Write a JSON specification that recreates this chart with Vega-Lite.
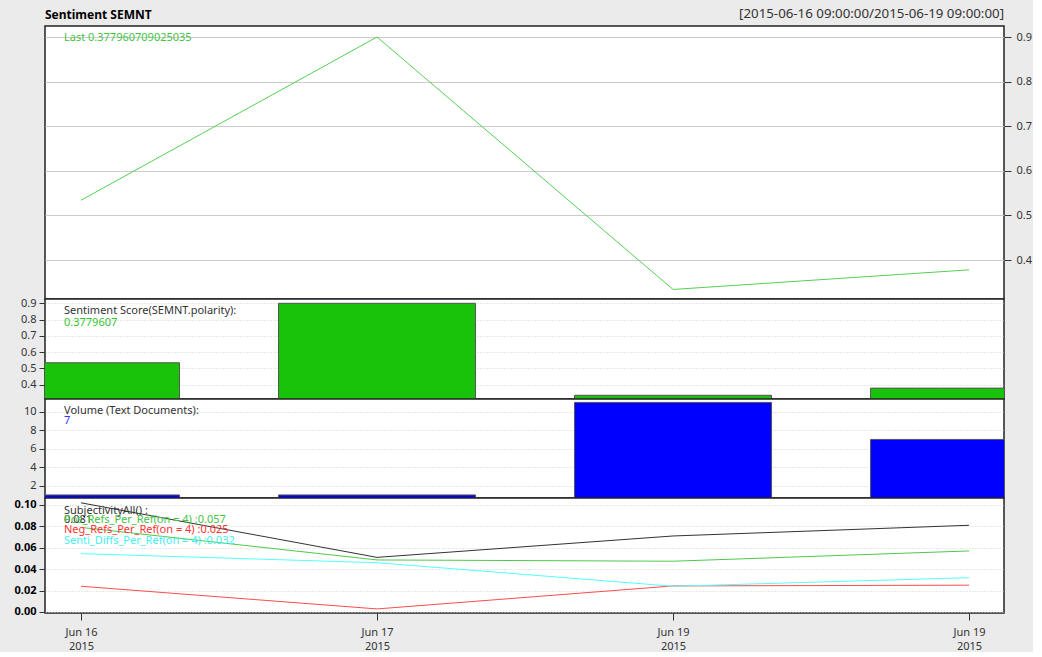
{
  "$schema": "https://vega.github.io/schema/vega-lite/v6.json",
  "background": "#ebebeb",
  "padding": {"left": 0, "top": 6, "right": 0, "bottom": 0},
  "spacing": 0,
  "bounds": "flush",
  "config": {
    "font": "Noto Sans",
    "view": {"fill": "white", "stroke": "#222222", "strokeWidth": 1.5},
    "axis": {"labelFont": "Noto Sans", "labelFontSize": 11, "labelColor": "#333333", "tickColor": "#333333", "domain": false, "labelFlush": false, "labelOverlap": false, "tickCount": 20},
    "text": {"font": "Noto Sans", "fontSize": 11}
  },
  "datasets": {
    "sent": [
      {"i": 0, "date": "2015-06-16", "polarity": 0.534, "volume": 1},
      {"i": 1, "date": "2015-06-17", "polarity": 0.9, "volume": 1},
      {"i": 2, "date": "2015-06-19", "polarity": 0.334, "volume": 11},
      {"i": 3, "date": "2015-06-19", "polarity": 0.37796, "volume": 7}
    ],
    "subj": [
      {"i": 0, "series": "SubjectivityAll", "value": 0.102},
      {"i": 1, "series": "SubjectivityAll", "value": 0.051},
      {"i": 2, "series": "SubjectivityAll", "value": 0.071},
      {"i": 3, "series": "SubjectivityAll", "value": 0.081},
      {"i": 0, "series": "Pos_Refs", "value": 0.079},
      {"i": 1, "series": "Pos_Refs", "value": 0.0486},
      {"i": 2, "series": "Pos_Refs", "value": 0.0474},
      {"i": 3, "series": "Pos_Refs", "value": 0.057},
      {"i": 0, "series": "Neg_Refs", "value": 0.024},
      {"i": 1, "series": "Neg_Refs", "value": 0.0028},
      {"i": 2, "series": "Neg_Refs", "value": 0.0243},
      {"i": 3, "series": "Neg_Refs", "value": 0.025},
      {"i": 0, "series": "Senti_Diffs", "value": 0.0545},
      {"i": 1, "series": "Senti_Diffs", "value": 0.046},
      {"i": 2, "series": "Senti_Diffs", "value": 0.024},
      {"i": 3, "series": "Senti_Diffs", "value": 0.032}
    ]
  },
  "vconcat": [
    {
      "width": 959, "height": 273,
      "layer": [
        {
          "data": {"name": "sent"},
          "mark": {"type": "line", "color": "#55d055", "strokeWidth": 1, "clip": true},
          "encoding": {
            "x": {"field": "i", "type": "quantitative", "scale": {"domain": [-0.1216, 3.118], "nice": false, "zero": false, "padding": 0}, "axis": null},
            "y": {"field": "polarity", "type": "quantitative", "scale": {"domain": [0.3126, 0.9247], "nice": false, "zero": false, "padding": 0},
                  "axis": {"orient": "right", "values": [0.4, 0.5, 0.6, 0.7, 0.8, 0.9], "tickCount": 20, "format": ".1f", "labelOverlap": false, "grid": true, "gridColor": "#cccccc", "tickSize": 7, "labelPadding": 5, "title": null}}
          }
        },
        {
          "data": {"values": [{"t": "Last 0.377960709025035"}]},
          "mark": {"type": "text", "align": "left", "baseline": "middle", "color": "#44c444"},
          "encoding": {"x": {"datum": -0.0574}, "y": {"datum": 0.898}, "text": {"field": "t"}}
        },
        {
          "data": {"values": [{"t": "Sentiment SEMNT"}]},
          "mark": {"type": "text", "align": "left", "baseline": "middle", "dy": -11, "fontWeight": "bold", "fontSize": 12, "color": "#000000"},
          "encoding": {"x": {"datum": -0.1216}, "y": {"datum": 0.9247}, "text": {"field": "t"}}
        },
        {
          "data": {"values": [{"t": "[2015-06-16 09:00:00/2015-06-19 09:00:00]"}]},
          "mark": {"type": "text", "align": "right", "baseline": "middle", "dy": -12, "fontSize": 13.3, "color": "#333333"},
          "encoding": {"x": {"datum": 3.118}, "y": {"datum": 0.9247}, "text": {"field": "t"}}
        }
      ]
    },
    {
      "width": 959, "height": 100,
      "layer": [
        {
          "data": {"name": "sent"},
          "mark": {"type": "bar", "width": 197, "fill": "#19c30a", "stroke": "#555555", "strokeWidth": 1, "clip": true},
          "encoding": {
            "x": {"field": "i", "type": "quantitative", "scale": {"domain": [-0.1216, 3.118], "nice": false, "zero": false, "padding": 0}, "axis": null},
            "y": {"field": "polarity", "type": "quantitative", "scale": {"domain": [0.311, 0.9265], "nice": false, "zero": false, "padding": 0},
                  "axis": {"orient": "left", "values": [0.4, 0.5, 0.6, 0.7, 0.8, 0.9], "tickCount": 20, "format": ".1f", "labelOverlap": false, "grid": true, "gridColor": "#d0d0d0", "gridDash": [1, 2], "tickSize": 6, "labelPadding": 3, "minExtent": 44, "maxExtent": 44, "title": null}}
          }
        },
        {
          "data": {"values": [{"t": "Sentiment Score(SEMNT.polarity):"}]},
          "mark": {"type": "text", "align": "left", "baseline": "middle", "color": "#333333"},
          "encoding": {"x": {"datum": -0.0574}, "y": {"datum": 0.8525}, "text": {"field": "t"}}
        },
        {
          "data": {"values": [{"t": "0.3779607"}]},
          "mark": {"type": "text", "align": "left", "baseline": "middle", "color": "#33c433"},
          "encoding": {"x": {"datum": -0.0574}, "y": {"datum": 0.78}, "text": {"field": "t"}}
        }
      ]
    },
    {
      "width": 959, "height": 99,
      "layer": [
        {
          "data": {"name": "sent"},
          "mark": {"type": "bar", "width": 197, "fill": "#0000ff", "stroke": "#555555", "strokeWidth": 1, "clip": true},
          "encoding": {
            "x": {"field": "i", "type": "quantitative", "scale": {"domain": [-0.1216, 3.118], "nice": false, "zero": false, "padding": 0}, "axis": null},
            "y": {"field": "volume", "type": "quantitative", "scale": {"domain": [0.67, 11.37], "nice": false, "zero": false, "padding": 0},
                  "axis": {"orient": "left", "values": [2, 4, 6, 8, 10], "tickCount": 20, "format": "d", "labelOverlap": false, "grid": true, "gridColor": "#d0d0d0", "gridDash": [1, 2], "tickSize": 6, "labelPadding": 3, "minExtent": 44, "maxExtent": 44, "title": null}}
          }
        },
        {
          "data": {"values": [{"t": "Volume (Text Documents):"}]},
          "mark": {"type": "text", "align": "left", "baseline": "middle", "color": "#333333"},
          "encoding": {"x": {"datum": -0.0574}, "y": {"datum": 10.08}, "text": {"field": "t"}}
        },
        {
          "data": {"values": [{"t": "7"}]},
          "mark": {"type": "text", "align": "left", "baseline": "middle", "color": "#3333ff"},
          "encoding": {"x": {"datum": -0.0574}, "y": {"datum": 9.0}, "text": {"field": "t"}}
        }
      ]
    },
    {
      "width": 959, "height": 115,
      "layer": [
        {
          "data": {"name": "subj"},
          "mark": {"type": "line", "strokeWidth": 1, "clip": true},
          "encoding": {
            "x": {"field": "i", "type": "quantitative", "scale": {"domain": [-0.1216, 3.118], "nice": false, "zero": false, "padding": 0},
                  "axis": {"orient": "bottom", "values": [0, 1, 2, 3], "tickCount": 20, "labelExpr": "datum.value == 0 ? ['Jun 16', '2015'] : datum.value == 1 ? ['Jun 17', '2015'] : ['Jun 19', '2015']", "labelOverlap": false, "tickSize": 7, "labelPadding": 6, "labelLineHeight": 14, "grid": false, "title": null}},
            "y": {"field": "value", "type": "quantitative", "scale": {"domain": [-0.001, 0.1065], "nice": false, "zero": false, "padding": 0},
                  "axis": {"orient": "left", "values": [0, 0.02, 0.04, 0.06, 0.08, 0.1], "tickCount": 20, "format": ".2f", "labelOverlap": false, "labelFontWeight": "bold", "labelColor": "#000000", "grid": true, "gridColor": "#d0d0d0", "gridDash": [1, 2], "tickSize": 6, "labelPadding": 3, "minExtent": 44, "maxExtent": 44, "title": null}},
            "color": {"field": "series", "type": "nominal", "scale": {"domain": ["SubjectivityAll", "Pos_Refs", "Neg_Refs", "Senti_Diffs"], "range": ["#333333", "#4dc94d", "#ff4d4d", "#55ffff"]}, "legend": null}
          }
        },
        {
          "data": {"values": [{"t": "SubjectivityAll() :"}]},
          "mark": {"type": "text", "align": "left", "baseline": "middle", "color": "#333333"},
          "encoding": {"x": {"datum": -0.0574}, "y": {"datum": 0.0944}, "text": {"field": "t"}}
        },
        {
          "data": {"values": [{"t": "0.081"}]},
          "mark": {"type": "text", "align": "left", "baseline": "middle", "color": "#333333"},
          "encoding": {"x": {"datum": -0.0574}, "y": {"datum": 0.0855}, "text": {"field": "t"}}
        },
        {
          "data": {"values": [{"t": "Pos_Refs_Per_Ref(on = 4) :0.057"}]},
          "mark": {"type": "text", "align": "left", "baseline": "middle", "color": "#44c444"},
          "encoding": {"x": {"datum": -0.0574}, "y": {"datum": 0.0855}, "text": {"field": "t"}}
        },
        {
          "data": {"values": [{"t": "Neg_Refs_Per_Ref(on = 4) :0.025"}]},
          "mark": {"type": "text", "align": "left", "baseline": "middle", "color": "#ff3333"},
          "encoding": {"x": {"datum": -0.0574}, "y": {"datum": 0.0762}, "text": {"field": "t"}}
        },
        {
          "data": {"values": [{"t": "Senti_Diffs_Per_Ref(on = 4) :0.032"}]},
          "mark": {"type": "text", "align": "left", "baseline": "middle", "color": "#44f0f0"},
          "encoding": {"x": {"datum": -0.0574}, "y": {"datum": 0.0664}, "text": {"field": "t"}}
        }
      ]
    }
  ]
}
